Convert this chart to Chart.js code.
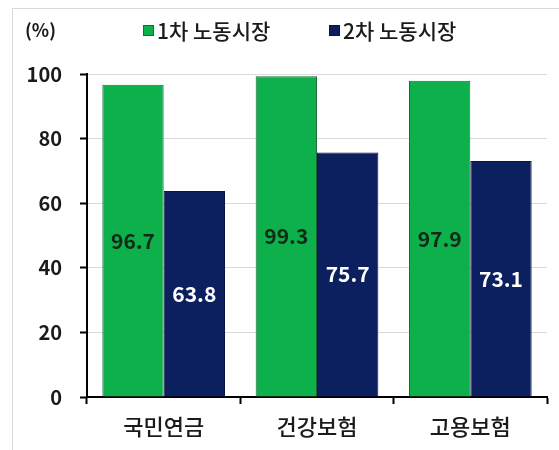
<!DOCTYPE html>
<html>
<head>
<meta charset="utf-8">
<script src="https://cdn.jsdelivr.net/npm/chart.js@4"></script>
<style>
    html, body { margin: 0; padding: 0; background: #fff; }
    #wrap { position: relative; width: 559px; height: 450px; overflow: hidden; }
    #frame { position: absolute; left: 12px; top: 8px; width: 600px; height: 500px; border: 1px solid #d9d9d9; }
    canvas { position: absolute; left: 0; top: 0; }
</style>
</head>
<body>
<div id="wrap">
    <div id="frame"></div>
    <canvas id="chart" width="559" height="450"></canvas>
</div>
<script>
const categories = ['국민연금', '건강보험', '고용보험'];
const seriesNames = ['1차 노동시장', '2차 노동시장'];
const primary = [96.7, 99.3, 97.9];
const secondary = [63.8, 75.7, 73.1];
const yTicks = [0, 20, 40, 60, 80, 100];

const FONT = "'Noto Sans CJK KR', 'Noto Sans', sans-serif";

// legend + unit label, drawn by hand so it sits where the original does
const topLegend = {
    id: 'topLegend',
    afterDraw(chart) {
        const ctx = chart.ctx;
        ctx.save();
        ctx.textBaseline = 'middle';
        ctx.fillStyle = '#1a1a1a';
        ctx.font = 'bold 18px ' + FONT;
        ctx.textAlign = 'left';
        ctx.fillText('(%)', 25, 30);

        const starts = [143, 329];
        ctx.font = '500 21px ' + FONT;
        chart.data.datasets.forEach((ds, i) => {
            const x = starts[i];
            ctx.fillStyle = ds.backgroundColor;
            ctx.fillRect(x, 25, 11, 11);
            ctx.strokeStyle = ds.borderColor;
            ctx.lineWidth = 1;
            ctx.strokeRect(x + 0.5, 25.5, 10, 10);
            ctx.fillStyle = '#1a1a1a';
            ctx.fillText(ds.label, x + 14, 31);
        });
        ctx.restore();
    }
};

// value labels in the middle of each bar
const barValues = {
    id: 'barValues',
    afterDatasetsDraw(chart) {
        const ctx = chart.ctx;
        ctx.save();
        ctx.font = 'bold 21px ' + FONT;
        ctx.textAlign = 'center';
        ctx.textBaseline = 'middle';
        chart.data.datasets.forEach((ds, i) => {
            chart.getDatasetMeta(i).data.forEach((bar, j) => {
                ctx.fillStyle = i === 0 ? '#0f2a16' : '#ffffff';
                ctx.fillText(ds.data[j].toFixed(1), bar.x, (bar.y + bar.base) / 2);
            });
        });
        ctx.restore();
    }
};

new Chart(document.getElementById('chart'), {
    type: 'bar',
    data: {
        labels: categories,
        datasets: [{
            label: seriesNames[0],
            data: primary,
            backgroundColor: '#0db04b',
            borderColor: '#1d6a38',
            borderWidth: 1
        }, {
            label: seriesNames[1],
            data: secondary,
            backgroundColor: '#0c2060',
            borderColor: '#081540',
            borderWidth: 1
        }]
    },
    options: {
        responsive: false,
        animation: false,
        events: [],
        layout: { padding: { top: 74, right: 12, left: 0, bottom: 0 } },
        plugins: {
            legend: { display: false },
            tooltip: { enabled: false }
        },
        datasets: {
            bar: { categoryPercentage: 0.8, barPercentage: 1.0 }
        },
        scales: {
            x: {
                afterFit: s => { s.height = 53; },
                grid: {
                    offset: true,
                    drawOnChartArea: false,
                    drawTicks: true,
                    tickLength: 7,
                    tickColor: '#000',
                    tickWidth: 2
                },
                border: { color: '#000', width: 2 },
                ticks: {
                    color: '#1a1a1a',
                    padding: 9,
                    font: { family: FONT, size: 22, weight: '500' }
                }
            },
            y: {
                min: 0,
                max: 100,
                afterFit: s => { s.width = 87; },
                afterBuildTicks: s => { s.ticks = yTicks.map(v => ({ value: v })); },
                grid: {
                    color: '#d9d9d9',
                    lineWidth: 1,
                    tickLength: 7,
                    tickColor: '#000',
                    tickWidth: 2
                },
                border: { color: '#000', width: 2 },
                ticks: {
                    color: '#1a1a1a',
                    padding: 18,
                    font: { family: FONT, size: 20, weight: 'bold' }
                }
            }
        }
    },
    plugins: [topLegend, barValues]
});
</script>
</body>
</html>
